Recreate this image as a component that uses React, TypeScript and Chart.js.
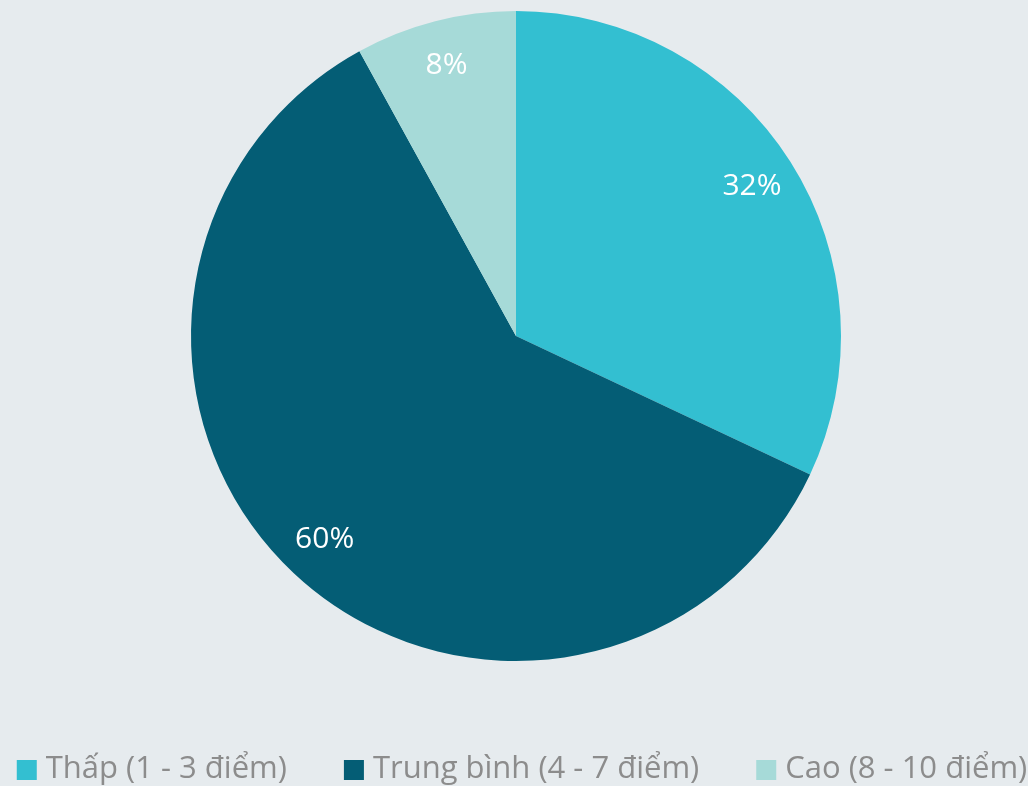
import React, { useEffect, useRef } from "react";
import { Chart, registerables } from "chart.js";

Chart.register(...registerables);

const categories = ["Thấp (1 - 3 điểm)", "Trung bình (4 - 7 điểm)", "Cao (8 - 10 điểm)"];
const values = [32, 60, 8];
const colors = ["#33bfd1", "#045d75", "#a6dad8"];

const FONT = "'Open Sans', 'Noto Sans', sans-serif";

const pctLabels = {
  id: "pctLabels",
  afterDatasetsDraw(chart: any) {
    const ctx = chart.ctx;
    const meta = chart.getDatasetMeta(0);
    const total = values.reduce((a, b) => a + b, 0);
    ctx.save();
    ctx.fillStyle = "#ffffff";
    ctx.font = `30px ${FONT}`;
    ctx.textAlign = "center";
    ctx.textBaseline = "middle";
    meta.data.forEach((arc: any, i: number) => {
      const p = arc.getProps(["x", "y", "startAngle", "endAngle", "outerRadius"], true);
      const mid = (p.startAngle + p.endAngle) / 2;
      const r = p.outerRadius * 0.86;
      const x = p.x + Math.cos(mid) * r;
      const y = p.y + Math.sin(mid) * r;
      ctx.fillText(Math.round((values[i] / total) * 100) + "%", x, y);
    });
    ctx.restore();
  },
};

const bottomLegend = {
  id: "bottomLegend",
  afterDraw(chart: any) {
    const ctx = chart.ctx;
    const labels: string[] = chart.data.labels;
    const bg: string[] = chart.data.datasets[0].backgroundColor;
    ctx.save();
    ctx.font = `31px ${FONT}`;
    ctx.textBaseline = "middle";
    ctx.textAlign = "left";
    const box = 20;
    const gapBox = 9;
    const gapItem = 57;
    const widths = labels.map((l) => ctx.measureText(l).width);
    const total = widths.reduce((a, w) => a + box + gapBox + w, 0) + gapItem * (labels.length - 1);
    let x = 522 - total / 2;
    const cy = 770;
    labels.forEach((l, i) => {
      ctx.fillStyle = bg[i];
      ctx.fillRect(x, cy - box / 2, box, box);
      ctx.fillStyle = "#8c8c8c";
      ctx.fillText(l, x + box + gapBox, cy - 1);
      x += box + gapBox + widths[i] + gapItem;
    });
    ctx.restore();
  },
};

export default function App() {
  const ref = useRef<HTMLCanvasElement>(null);
  useEffect(() => {
    document.body.style.margin = "0";
    const chart = new Chart(ref.current!, {
      type: "pie",
      data: {
        labels: categories,
        datasets: [{ data: values, backgroundColor: colors, borderWidth: 0 }],
      },
      options: {
        animation: false,
        responsive: false,
        maintainAspectRatio: false,
        layout: { padding: { top: 11, bottom: 125, left: 4, right: 0 } },
        plugins: {
          tooltip: { enabled: false },
          legend: { display: false },
        },
      },
      plugins: [pctLabels, bottomLegend],
    });
    return () => chart.destroy();
  }, []);
  return (
    <div style={{ width: 1028, height: 786, background: "#e6ebee" }}>
      <canvas ref={ref} width={1028} height={786} style={{ display: "block" }} />
    </div>
  );
}
